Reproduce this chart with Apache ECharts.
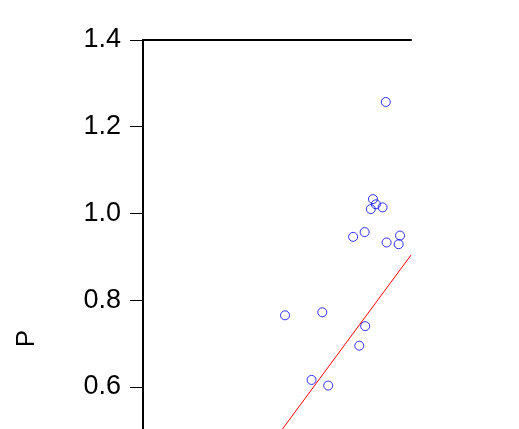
<!DOCTYPE html>
<html><head><meta charset="utf-8">
<script src="https://cdn.jsdelivr.net/npm/echarts@6/dist/echarts.min.js"></script>
<style>html,body{margin:0;padding:0;background:#fff}#c{width:519px;height:429px}</style>
</head><body><div id="c"></div>
<script>
const xValues = [90.6, 85.8, 86.9, 85.0, 89.4, 78.4, 82.7, 95.9, 90.9, 95.4, 53.0, 66.9, 82.9, 80.7, 62.9, 69.1];
const pValues = [1.257, 1.033, 1.021, 1.010, 1.014, 0.946, 0.957, 0.949, 0.933, 0.929, 0.765, 0.772, 0.740, 0.695, 0.616, 0.603];
const fitX = [40, 100];
const fitY = [0.402, 0.904];

const chart = echarts.init(document.getElementById('c'), null, {renderer: 'canvas'});
chart.setOption({
  animation: false,
  backgroundColor: '#fff',
  grid: {left: 143, top: 40, width: 268, height: 607, outerBoundsMode: 'none', containLabel: false},
  xAxis: {
    type: 'value', min: 0, max: 100, position: 'top',
    axisLine: {show: true, onZero: false, lineStyle: {color: '#000', width: 2}},
    axisTick: {show: false}, axisLabel: {show: false}, splitLine: {show: false}
  },
  yAxis: {
    type: 'value', min: 0, max: 1.4, interval: 0.2,
    name: 'P', nameLocation: 'middle', nameGap: 103, nameRotate: 90,
    nameTextStyle: {fontFamily: 'Liberation Sans', fontSize: 26, color: '#000', padding: [0, 0, 0, 10]},
    axisLine: {show: true, onZero: false, lineStyle: {color: '#000', width: 2}},
    axisTick: {show: true, inside: false, length: 13, lineStyle: {color: '#000', width: 1}},
    axisLabel: {margin: 22, fontFamily: 'Liberation Sans', fontSize: 27, color: '#000',
      formatter: v => v.toFixed(1)},
    splitLine: {show: false}
  },
  series: [
    {
      type: 'scatter', symbol: 'circle', symbolSize: 9,
      itemStyle: {color: 'transparent', borderColor: '#0000ff', borderWidth: 1},
      data: xValues.map((x, i) => [x, pValues[i]])
    },
    {
      type: 'line', symbol: 'none', clip: true,
      lineStyle: {color: '#ff0000', width: 1},
      data: fitX.map((x, i) => [x, fitY[i]])
    }
  ]
});
</script></body></html>
